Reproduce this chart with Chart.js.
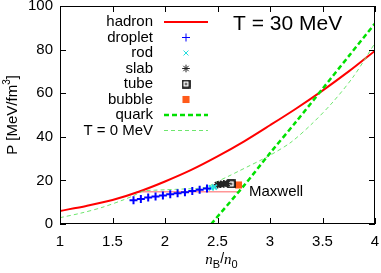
<!DOCTYPE html>
<html>
<head>
<meta charset="utf-8">
<script src="https://cdn.jsdelivr.net/npm/chart.js@4"></script>
<style>
  html, body { margin: 0; padding: 0; background: #fff; }
  #c { display: block; }
</style>
</head>
<body>
<canvas id="c" width="381" height="273"></canvas>
<script>
// P vs n_B/n_0 at T = 30 MeV, pasta phases

const FONT = '"Liberation Sans", Arial, Helvetica, sans-serif';

// axis ticks
const xTicks = [1, 1.5, 2, 2.5, 3, 3.5, 4];
const yTicks = [0, 20, 40, 60, 80, 100];

// hadron EOS (T = 30 MeV)
const hadronN = [1.0, 1.25, 1.5, 1.75, 2.0, 2.25, 2.5, 2.75, 3.0, 3.25, 3.5, 3.75, 4.0];
const hadronP = [6.0, 8.3, 11.0, 14.8, 19.5, 24.8, 31.0, 37.8, 45.3, 53.0, 61.2, 70.0, 79.5];

// quark EOS (T = 30 MeV)
const quarkN = [2.44, 2.75, 3.0, 3.25, 3.5, 3.75, 4.0];
const quarkP = [0, 17.5, 32.5, 47.0, 62.0, 77.0, 92.0];

// T = 0 MeV curve
const t0N = [1.0, 1.2, 1.4, 1.6, 1.7, 1.8, 1.9, 2.0, 2.1, 2.2, 2.3, 2.4, 2.5, 2.6, 2.7, 2.8, 2.9, 3.0, 3.2, 3.4, 3.6, 3.8, 4.0];
const t0P = [2.9, 5.0, 7.6, 11.0, 13.0, 15.2, 15.5, 15.7, 15.9, 16.1, 16.3, 17.0, 19.5, 21.8, 24.2, 26.6, 29.0, 31.5, 37.5, 46.0, 56.0, 68.0, 83.0];

// Maxwell construction
const maxwellN = [1.73, 2.71];
const maxwellP = [14.8, 14.8];

// pasta structures
const dropletN = [1.70, 1.77, 1.84, 1.91, 1.98, 2.05, 2.12, 2.19, 2.26, 2.33, 2.40];
const dropletP = [10.9, 11.5, 12.1, 12.6, 13.1, 13.6, 14.1, 14.6, 15.1, 15.7, 16.3];
const rodN = [2.44, 2.47];
const rodP = [16.6, 16.9];
const slabN = [2.50, 2.53, 2.56, 2.59];
const slabP = [18.0, 18.2, 18.4, 18.6];
const tubeN = [2.63];
const tubeP = [18.4];
const bubbleN = [2.70];
const bubbleP = [17.9];

const legendNames = ['hadron', 'droplet', 'rod', 'slab', 'tube', 'bubble', 'quark', 'T = 0 MeV'];

const pts = (xs, ys) => xs.map((x, i) => ({ x, y: ys[i] }));

// boxed dot marker for "tube"
function tubeMarker() {
  const m = document.createElement('canvas');
  m.width = 9;
  m.height = 9;
  const g = m.getContext('2d');
  g.strokeStyle = '#000';
  g.lineWidth = 1.6;
  g.strokeRect(1, 1, 7, 7);
  g.fillStyle = '#000';
  g.fillRect(3.5, 3.5, 2, 2);
  return m;
}
const tubeImg = tubeMarker();

const lineDs = (label, data, color, width, dash, order) => ({
  label, data, showLine: true, borderColor: color, borderWidth: width,
  borderDash: dash, pointRadius: 0, fill: false, tension: 0.3, order,
});
const markDs = (label, data, style, color, radius, width, fillColor) => ({
  label, data, showLine: false, pointStyle: style, pointRadius: radius,
  pointBorderWidth: width, pointBorderColor: color,
  pointBackgroundColor: fillColor || color, order: 0,
});

const datasets = [
  lineDs('hadron', pts(hadronN, hadronP), '#ff0000', 2, [], 3),
  markDs('droplet', pts(dropletN, dropletP), 'cross', '#0000ff', 4, 2),
  markDs('rod', pts(rodN, rodP), 'crossRot', '#22dddd', 3.5, 1.8),
  markDs('slab', pts(slabN, slabP), 'star', '#222222', 3.8, 1.6),
  markDs('tube', pts(tubeN, tubeP), tubeImg, '#000', 4.5, 1),
  markDs('bubble', pts(bubbleN, bubbleP), 'rect', '#ff5a1a', 5, 0, '#ff5a1a'),
  lineDs('quark', pts(quarkN, quarkP), '#00e000', 2.5, [5, 3], 2),
  lineDs('T = 0 MeV', pts(t0N, t0P), 'rgb(110,230,110)', 1, [4, 3], 2),
  lineDs('Maxwell', pts(maxwellN, maxwellP), 'rgb(255,150,150)', 1.6, [], 4),
];

const decor = {
  id: 'decor',
  afterDatasetsDraw(chart) {
    const { ctx, chartArea: a, scales } = chart;
    const xs = scales.x, ys = scales.y;
    ctx.save();

    // frame
    ctx.strokeStyle = '#000';
    ctx.lineWidth = 1;
    ctx.strokeRect(a.left + 0.5, a.top + 0.5, a.right - a.left - 1, a.bottom - a.top - 1);

    // inward ticks on all sides
    const tl = 6;
    ctx.beginPath();
    xTicks.forEach((v) => {
      const px = Math.round(xs.getPixelForValue(v)) + 0.5;
      ctx.moveTo(px, a.bottom); ctx.lineTo(px, a.bottom - tl);
      ctx.moveTo(px, a.top); ctx.lineTo(px, a.top + tl);
    });
    yTicks.forEach((v) => {
      const py = Math.round(ys.getPixelForValue(v)) + 0.5;
      ctx.moveTo(a.left, py); ctx.lineTo(a.left + tl, py);
      ctx.moveTo(a.right, py); ctx.lineTo(a.right - tl, py);
    });
    ctx.stroke();

    // legend (gnuplot style: text right aligned, sample to the right)
    ctx.font = '15px ' + FONT;
    ctx.fillStyle = '#000';
    ctx.textAlign = 'right';
    ctx.textBaseline = 'middle';
    legendNames.forEach((name, i) => {
      const y = 22 + i * 15.5;
      ctx.fillStyle = '#000';
      ctx.fillText(name, 153, y);
      const ds = chart.data.datasets.find((d) => d.label === name);
      if (ds.showLine) {
        ctx.save();
        ctx.strokeStyle = ds.borderColor;
        ctx.lineWidth = ds.borderWidth;
        ctx.setLineDash(ds.borderDash);
        ctx.beginPath();
        ctx.moveTo(164, y); ctx.lineTo(208, y);
        ctx.stroke();
        ctx.restore();
      } else {
        ctx.save();
        ctx.strokeStyle = ds.pointBorderColor;
        ctx.fillStyle = ds.pointBackgroundColor;
        Chart.helpers.drawPoint(ctx, {
          pointStyle: ds.pointStyle, radius: ds.pointRadius,
          borderWidth: ds.pointBorderWidth, rotation: 0,
        }, 186, y);
        ctx.restore();
      }
    });

    // annotations
    ctx.fillStyle = '#000';
    ctx.textAlign = 'left';
    ctx.font = '21px ' + FONT;
    ctx.fillText('T = 30 MeV', 233, 24);
    ctx.font = '15px ' + FONT;
    ctx.fillText('Maxwell', 249, 192);

    // y title
    ctx.save();
    ctx.translate(13, (a.top + a.bottom) / 2);
    ctx.rotate(-Math.PI / 2);
    const t1 = 'P [MeV/fm', t3 = ']';
    ctx.font = '15px ' + FONT;
    const w1 = ctx.measureText(t1).width;
    ctx.font = '10px ' + FONT;
    const w2 = ctx.measureText('3').width;
    ctx.font = '15px ' + FONT;
    const w3 = ctx.measureText(t3).width;
    const x0 = -(w1 + w2 + w3) / 2;
    ctx.textAlign = 'left';
    ctx.fillText(t1, x0, 0);
    ctx.font = '10px ' + FONT;
    ctx.fillText('3', x0 + w1, -6);
    ctx.font = '15px ' + FONT;
    ctx.fillText(t3, x0 + w1 + w2, 0);
    ctx.restore();

    // x title n_B / n_0
    const parts = [
      { t: 'n', f: 'italic 15px "Liberation Serif", "DejaVu Serif", serif', dy: 0 },
      { t: 'B', f: '11px ' + FONT, dy: 4 },
      { t: '/', f: '14px ' + FONT, dy: -1 },
      { t: 'n', f: 'italic 15px "Liberation Serif", "DejaVu Serif", serif', dy: 0 },
      { t: '0', f: '11px ' + FONT, dy: 4 },
    ];
    let tw = 0;
    parts.forEach((p) => { ctx.font = p.f; p.w = ctx.measureText(p.t).width; tw += p.w; });
    let cx = (a.left + a.right) / 2 - tw / 2 + 4;
    ctx.textBaseline = 'alphabetic';
    parts.forEach((p) => {
      ctx.font = p.f;
      ctx.fillText(p.t, cx, 264 + p.dy);
      cx += p.w;
    });

    ctx.restore();
  },
};

const noPad = (s) => {
  s.paddingLeft = 0;
  s.paddingRight = 0;
  s.paddingTop = 0;
  s.paddingBottom = 0;
};

new Chart(el('c'), {
  type: 'scatter',
  data: { datasets },
  options: {
    responsive: false,
    animation: false,
    devicePixelRatio: 1,
    layout: { padding: { left: 0, top: 6, right: 5, bottom: 0 } },
    plugins: { legend: { display: false }, tooltip: { enabled: false } },
    scales: {
      x: {
        type: 'linear', min: 1, max: 4,
        afterBuildTicks: (s) => { s.ticks = xTicks.map((v) => ({ value: v })); },
        afterFit: (s) => { s.height = 49; noPad(s); },
        ticks: { color: '#000', font: { size: 15, family: FONT }, padding: 9, maxRotation: 0, callback: (v) => String(v) },
        grid: { display: false, drawTicks: false },
        border: { display: false },
      },
      y: {
        type: 'linear', min: 0, max: 100,
        afterBuildTicks: (s) => { s.ticks = yTicks.map((v) => ({ value: v })); },
        afterFit: (s) => { s.width = 60; noPad(s); },
        ticks: { color: '#000', font: { size: 15, family: FONT }, padding: 7, callback: (v) => String(v) },
        grid: { display: false, drawTicks: false },
        border: { display: false },
      },
    },
  },
  plugins: [decor],
});

function el(id) { return document.getElementById(id); }
</script>
</body>
</html>
